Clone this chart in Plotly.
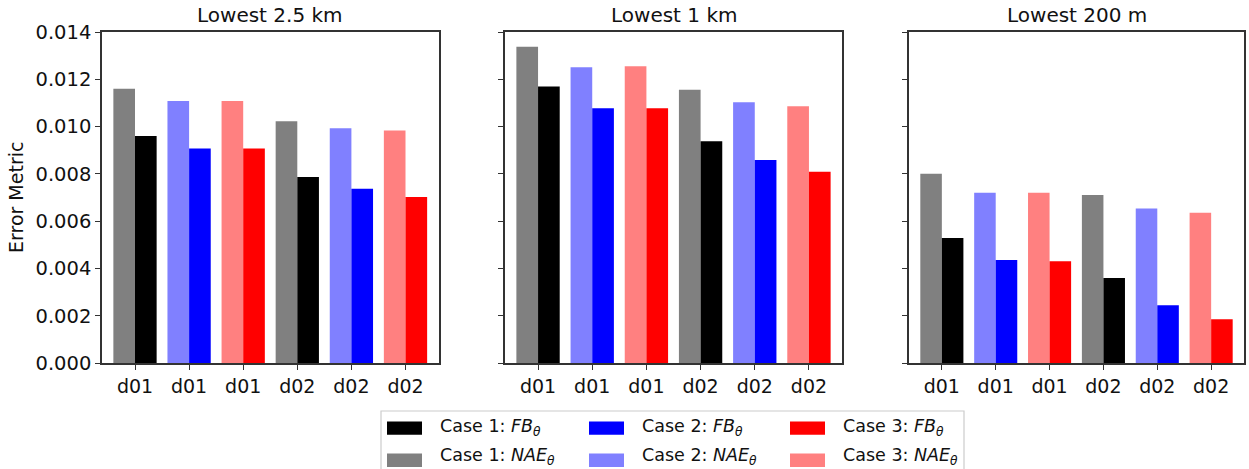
import plotly.graph_objects as go

# Error metrics per domain/case, for three depth layers
group_labels = ["d01", "d01", "d01", "d02", "d02", "d02"]
panel_titles = ["Lowest 2.5 km", "Lowest 1 km", "Lowest 200 m"]

nae_25km = [0.0116, 0.01108, 0.01108, 0.01022, 0.00993, 0.00983]
fb_25km = [0.0096, 0.00907, 0.00907, 0.00787, 0.00737, 0.00702]
nae_1km = [0.01338, 0.01251, 0.01255, 0.01156, 0.01103, 0.01086]
fb_1km = [0.0117, 0.01077, 0.01077, 0.00938, 0.00859, 0.00809]
nae_200m = [0.0080, 0.0072, 0.0072, 0.00711, 0.00653, 0.00636]
fb_200m = [0.00529, 0.00436, 0.0043, 0.0036, 0.00244, 0.00185]

y_ticks = [0.0, 0.002, 0.004, 0.006, 0.008, 0.010, 0.012, 0.014]

fb_colors = ["#000000", "#0000ff", "#ff0000"]
nae_colors = ["#808080", "#8080ff", "#ff8080"]
legend_labels = [
    ["Case 1: <i>FB<sub>θ</sub></i>", "Case 1: <i>NAE<sub>θ</sub></i>"],
    ["Case 2: <i>FB<sub>θ</sub></i>", "Case 2: <i>NAE<sub>θ</sub></i>"],
    ["Case 3: <i>FB<sub>θ</sub></i>", "Case 3: <i>NAE<sub>θ</sub></i>"],
]

W, H = 1249, 469
FONT = "DejaVu Sans"


def px_x(x):
    return x / W


def px_y(y):
    return 1 - y / H


panels = [(nae_25km, fb_25km), (nae_1km, fb_1km), (nae_200m, fb_200m)]
x_domains = [(102, 438.5), (505, 842), (909, 1244)]
y_domain = [px_y(363), px_y(32)]
positions = list(range(len(group_labels)))

fig = go.Figure()
layout = dict(
    width=W,
    height=H,
    autosize=False,
    margin=dict(l=0, r=0, t=0, b=0, pad=0, autoexpand=False),
    plot_bgcolor="white",
    paper_bgcolor="white",
    showlegend=False,
    barmode="overlay",
    font=dict(family=FONT, size=19, color="#111"),
)

annotations = []
shapes = []

for i, (nae, fb) in enumerate(panels):
    sfx = "" if i == 0 else str(i + 1)
    xa, ya = "x" + sfx, "y" + sfx
    bar_nae = [nae_colors[k % 3] for k in range(len(nae))]
    bar_fb = [fb_colors[k % 3] for k in range(len(fb))]
    fig.add_trace(go.Bar(x=positions, y=nae, width=0.4, offset=-0.4,
                         marker=dict(color=bar_nae, line=dict(width=0)),
                         xaxis=xa, yaxis=ya))
    fig.add_trace(go.Bar(x=positions, y=fb, width=0.4, offset=0.0,
                         marker=dict(color=bar_fb, line=dict(width=0)),
                         xaxis=xa, yaxis=ya))
    x0, x1 = x_domains[i]
    layout["xaxis" + sfx] = dict(
        domain=[px_x(x0), px_x(x1)], anchor=ya, range=[-0.61, 5.61],
        tickmode="array", tickvals=positions, ticktext=group_labels,
        ticks="outside", ticklen=5, tickwidth=1.3, tickcolor="#333",
        showline=True, mirror=True, linecolor="#333", linewidth=1.5,
        showgrid=False, zeroline=False, automargin=False,
        tickfont=dict(family=FONT, size=19, color="#111"),
    )
    layout["yaxis" + sfx] = dict(
        domain=y_domain, anchor=xa, range=[0, 0.014],
        tickmode="array", tickvals=y_ticks,
        ticktext=[f"{v:.3f}" for v in y_ticks],
        showticklabels=(i == 0),
        ticks="outside", ticklen=5, tickwidth=1.3, tickcolor="#333",
        showline=True, mirror=True, linecolor="#333", linewidth=1.5,
        showgrid=False, zeroline=False, automargin=False,
        tickfont=dict(family=FONT, size=19.5, color="#111"),
    )
    annotations.append(dict(
        text=panel_titles[i], x=px_x((x0 + x1) / 2), y=px_y(15),
        xref="paper", yref="paper", xanchor="center", yanchor="middle",
        showarrow=False, font=dict(family=FONT, size=20, color="#111"),
    ))

annotations.append(dict(
    text="Error Metric", x=px_x(16), y=px_y(198), xref="paper", yref="paper",
    xanchor="center", yanchor="middle", textangle=-90, showarrow=False,
    font=dict(family=FONT, size=19, color="#111"),
))

# Legend drawn as swatches and labels inside a framed box
shapes.append(dict(
    type="rect", xref="paper", yref="paper",
    x0=px_x(381), x1=px_x(964), y0=px_y(411), y1=px_y(476),
    line=dict(color="#cccccc", width=1.2), fillcolor="white", layer="above",
))
col_swatch = [(387, 422), (589, 624), (790, 825)]
col_text = [437.5, 639.5, 841.4]
rows = [(421.5, 434.7), (453.6, 466.9)]
text_rows = [427.5, 456.5]
for c in range(3):
    for r in range(2):
        color = fb_colors[c] if r == 0 else nae_colors[c]
        sx0, sx1 = col_swatch[c]
        sy0, sy1 = rows[r]
        shapes.append(dict(
            type="rect", xref="paper", yref="paper",
            x0=px_x(sx0), x1=px_x(sx1), y0=px_y(sy1), y1=px_y(sy0),
            line=dict(width=0), fillcolor=color, layer="above",
        ))
        annotations.append(dict(
            text=legend_labels[c][r], x=px_x(col_text[c]),
            y=px_y(text_rows[r]), xref="paper", yref="paper",
            xanchor="left", yanchor="middle", showarrow=False,
            font=dict(family=FONT, size=17.5, color="#111"),
        ))

layout["annotations"] = annotations
layout["shapes"] = shapes
fig.update_layout(**layout)
fig.write_html("out.html")
